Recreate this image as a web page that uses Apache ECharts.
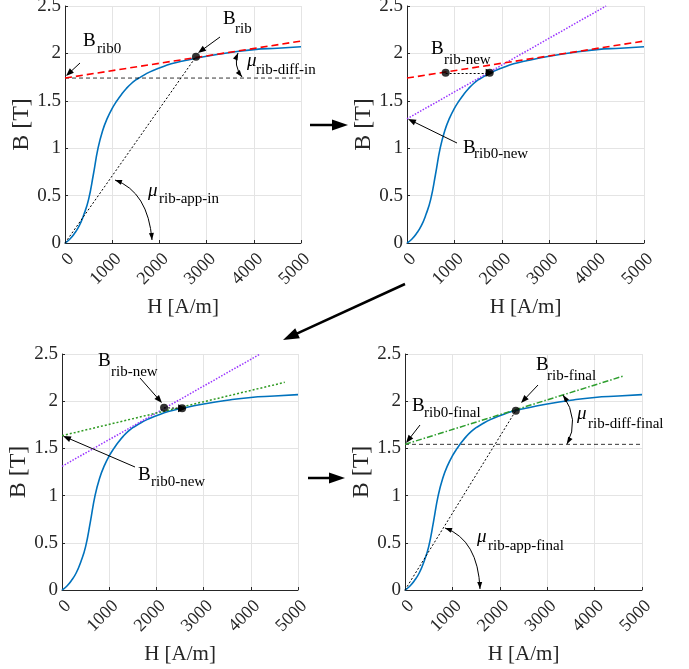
<!DOCTYPE html>
<html>
<head>
<meta charset="utf-8">
<title>B-H rib permeability</title>
<script src="https://cdn.jsdelivr.net/npm/echarts@6/dist/echarts.min.js"></script>
<style>
	* {
		margin: 0;
		padding: 0
	}
	html,
	body {
		width: 100%;
		height: 100%;
		background: #fff;
	}
	#main {
		width: 689px;
		height: 669px;
	}
</style>
</head>
<body>
<div id="main"></div>
<script>
	// B-H curve of the rib material
	var hData = [0, 100, 200, 300, 400, 500, 600, 700, 800, 900, 1000, 1100, 1200, 1300, 1400, 1500, 1600, 1800, 2000, 2250, 2500, 3000, 3500, 4000, 4500, 5000];
	var bData = [0, 0.04, 0.1, 0.18, 0.3, 0.46, 0.72, 1.0, 1.19, 1.32, 1.42, 1.5, 1.57, 1.63, 1.68, 1.72, 1.75, 1.805, 1.845, 1.89, 1.92, 1.97, 2.01, 2.04, 2.055, 2.07];

	// construction lines [H, B]
	var tangentIn = [[0, 1.74], [5000, 2.13]];
	var levelIn = [[0, 1.74], [5000, 1.74]];
	var secantIn = [[0, 0], [2775, 1.965]];
	var pointIn = [[2775, 1.965]];
	var purpleLine = [[0, 1.31], [4200, 2.5]];
	var newPoints1 = [[815, 1.795], [1745, 1.795]];
	var greenLine = [[0, 1.635], [4720, 2.2]];
	var newPoints2 = [[2162, 1.93], [2545, 1.925]];
	var tangentFinal = [[0, 1.543], [4610, 2.267]];
	var levelFinal = [[0, 1.543], [5000, 1.543]];
	var secantFinal = [[0, 0], [2338, 1.9]];
	var pointFinal = [[2338, 1.9]];

	var xTicks = [0, 1000, 2000, 3000, 4000, 5000];
	var yTicks = [0, 0.5, 1, 1.5, 2, 2.5];

	var FONT = '"Liberation Serif", "Times New Roman", serif';
	var bh = hData.map(function(h, i) { return [h, bData[i]]; });

	var grids = [
		{left: 65, top: 6, width: 236, height: 237},
		{left: 407, top: 6, width: 237, height: 237},
		{left: 62, top: 354, width: 236, height: 236},
		{left: 405, top: 354, width: 237, height: 236}
	];

	function xAxisFor(i) {
		return {
			type: 'value', gridIndex: i, min: xTicks[0], max: xTicks[xTicks.length - 1], interval: 1000,
			name: 'H [A/m]', nameLocation: 'middle', nameGap: 54,
			nameTextStyle: {fontFamily: FONT, fontSize: 21, color: '#262626'},
			axisLine: {show: true, onZero: false, lineStyle: {color: '#262626'}},
			axisTick: {show: true, inside: true, length: 3, lineStyle: {color: '#262626'}},
			axisLabel: {
				rotate: 45, margin: 7, align: 'right', verticalAlign: 'top',
				fontFamily: FONT, fontSize: 18, color: '#262626',
				formatter: function(v) { return String(v); }
			},
			splitLine: {show: true, lineStyle: {color: '#e4e4e4'}}
		};
	}

	function yAxisFor(i) {
		return {
			type: 'value', gridIndex: i, min: yTicks[0], max: yTicks[yTicks.length - 1], interval: 0.5,
			name: 'B [T]', nameLocation: 'middle', nameRotate: 90, nameGap: 30,
			nameTextStyle: {fontFamily: FONT, fontSize: 24, color: '#262626'},
			axisLine: {show: true, onZero: false, lineStyle: {color: '#262626'}},
			axisTick: {show: true, inside: true, length: 3, lineStyle: {color: '#262626'}},
			axisLabel: {margin: 4, fontFamily: FONT, fontSize: 19, color: '#262626'},
			splitLine: {show: true, lineStyle: {color: '#e4e4e4'}}
		};
	}

	function line(i, data, color, width, type, z) {
		return {
			type: 'line', xAxisIndex: i, yAxisIndex: i, data: data, symbol: 'none',
			lineStyle: {color: color, width: width, type: type}, z: z || 3, silent: true
		};
	}

	function curve(i) {
		return {
			type: 'line', xAxisIndex: i, yAxisIndex: i, data: bh, symbol: 'none',
			smooth: 0.5,
			lineStyle: {color: '#0072BD', width: 1.6}, z: 2, silent: true
		};
	}

	function dots(i, data) {
		return {
			type: 'scatter', xAxisIndex: i, yAxisIndex: i, data: data, symbol: 'circle',
			symbolSize: 8, itemStyle: {color: '#000'}, z: 6, silent: true
		};
	}

	function shift(i, pts) {
		return {
			type: 'lines', coordinateSystem: 'cartesian2d', xAxisIndex: i, yAxisIndex: i,
			data: [{coords: pts}], symbol: ['none', 'triangle'], symbolSize: 8,
			lineStyle: {color: '#000', width: 1, type: [2, 2], opacity: 1}, z: 5, silent: true
		};
	}

	var series = [
		curve(0),
		line(0, levelIn, '#000', 0.8, [4, 3]),
		line(0, secantIn, '#000', 1, [2, 2]),
		line(0, tangentIn, '#ff0000', 1.6, [7, 4], 4),
		dots(0, pointIn),

		curve(1),
		line(1, tangentIn, '#ff0000', 1.6, [7, 4], 4),
		line(1, purpleLine, '#9933ff', 1.5, [1.5, 1.5]),
		shift(1, newPoints1),
		dots(1, newPoints1),

		curve(2),
		line(2, purpleLine, '#9933ff', 1.5, [1.5, 1.5]),
		line(2, greenLine, '#2f9a22', 1.5, [2, 2]),
		shift(2, newPoints2),
		dots(2, newPoints2),

		curve(3),
		line(3, levelFinal, '#000', 0.8, [4, 3]),
		line(3, secantFinal, '#000', 1, [2, 2]),
		line(3, tangentFinal, '#2e9e2e', 1.5, [6, 2, 1.5, 2], 4),
		dots(3, pointFinal)
	];

	// annotations: [left, middleY, subLeft, subMiddleY, base, subscript, italic]
	var labels = [
		[83, 41, 97, 49, 'B', 'rib0', false],
		[223, 19, 235, 29, 'B', 'rib', false],
		[247, 61, 256, 70, 'μ', 'rib-diff-in', true],
		[148, 191, 159, 199, 'μ', 'rib-app-in', true],
		[431, 49, 444, 60, 'B', 'rib-new', false],
		[463, 148, 474, 154, 'B', 'rib0-new', false],
		[98, 361, 111, 372, 'B', 'rib-new', false],
		[138, 475, 151, 482, 'B', 'rib0-new', false],
		[536, 365, 547, 376, 'B', 'rib-final', false],
		[412, 406, 424, 413, 'B', 'rib0-final', false],
		[577, 414, 588, 424, 'μ', 'rib-diff-final', true],
		[477, 537, 488, 546, 'μ', 'rib-app-final', true]
	];
	// thin pointer arrows [x1, y1, x2, y2]
	var pointers = [
		[80, 63, 66, 76],
		[220, 37, 198, 53],
		[457, 143, 408, 119],
		[140, 378, 162, 403],
		[135, 467, 63, 436],
		[538, 385, 521, 403],
		[420, 425, 406, 443]
	];
	// arrows between the panels
	var stepArrows = [
		[310, 125, 348, 125],
		[405, 284, 283, 340],
		[308, 478, 345, 478]
	];
	// angle arcs [x0, y0, cx, cy, x2, y2]
	var arcs = [
		[238, 53, 233, 65, 242, 77],
		[115, 180, 148, 192, 152, 240],
		[563, 395, 580, 420, 567, 444],
		[445, 528, 478, 540, 480, 589]
	];

	function head(tx, ty, fx, fy, len, w) {
		var dx = tx - fx, dy = ty - fy;
		var d = Math.sqrt(dx * dx + dy * dy);
		var ux = dx / d, uy = dy / d;
		var bx = tx - ux * len, by = ty - uy * len;
		return {
			type: 'polygon', z: 10,
			shape: {points: [[tx, ty], [bx - uy * w / 2, by + ux * w / 2], [bx + uy * w / 2, by - ux * w / 2]]},
			style: {fill: '#000'}
		};
	}

	function arrow(a, width, len, w) {
		var dx = a[2] - a[0], dy = a[3] - a[1];
		var d = Math.sqrt(dx * dx + dy * dy);
		var ex = a[2] - dx / d * len * 0.8, ey = a[3] - dy / d * len * 0.8;
		return [
			{type: 'line', z: 10, shape: {x1: a[0], y1: a[1], x2: ex, y2: ey}, style: {stroke: '#000', lineWidth: width}},
			head(a[2], a[3], a[0], a[1], len, w)
		];
	}

	var elements = [];
	labels.forEach(function(l) {
		elements.push({
			type: 'text', x: l[0], y: l[1], z: 10,
			style: {text: l[4], fill: '#000', fontFamily: FONT, fontSize: 19, fontStyle: l[6] ? 'italic' : 'normal', verticalAlign: 'middle'}
		});
		elements.push({
			type: 'text', x: l[2], y: l[3], z: 10,
			style: {text: l[5], fill: '#000', fontFamily: FONT, fontSize: 15, verticalAlign: 'middle'}
		});
	});
	pointers.forEach(function(p) {
		elements = elements.concat(arrow(p, 1, 8, 6));
	});
	stepArrows.forEach(function(p) {
		elements = elements.concat(arrow(p, 2.5, 16, 11));
	});
	arcs.forEach(function(c) {
		elements.push({
			type: 'bezierCurve', z: 10,
			shape: {x1: c[0], y1: c[1], cpx1: c[2], cpy1: c[3], x2: c[4], y2: c[5]},
			style: {stroke: '#000', lineWidth: 1, fill: 'none'}
		});
		elements.push(head(c[0], c[1], c[2], c[3], 7, 5));
		elements.push(head(c[4], c[5], c[2], c[3], 7, 5));
	});

	var myChart = echarts.init(document.getElementById('main'));
	myChart.setOption({
		animation: false,
		backgroundColor: '#fff',
		grid: grids.map(function(g) {
			return {left: g.left, top: g.top, width: g.width, height: g.height, containLabel: false, outerBoundsMode: 'none'};
		}),
		xAxis: [0, 1, 2, 3].map(xAxisFor),
		yAxis: [0, 1, 2, 3].map(yAxisFor),
		series: series,
		graphic: {elements: elements}
	});
</script>
</body>
</html>
